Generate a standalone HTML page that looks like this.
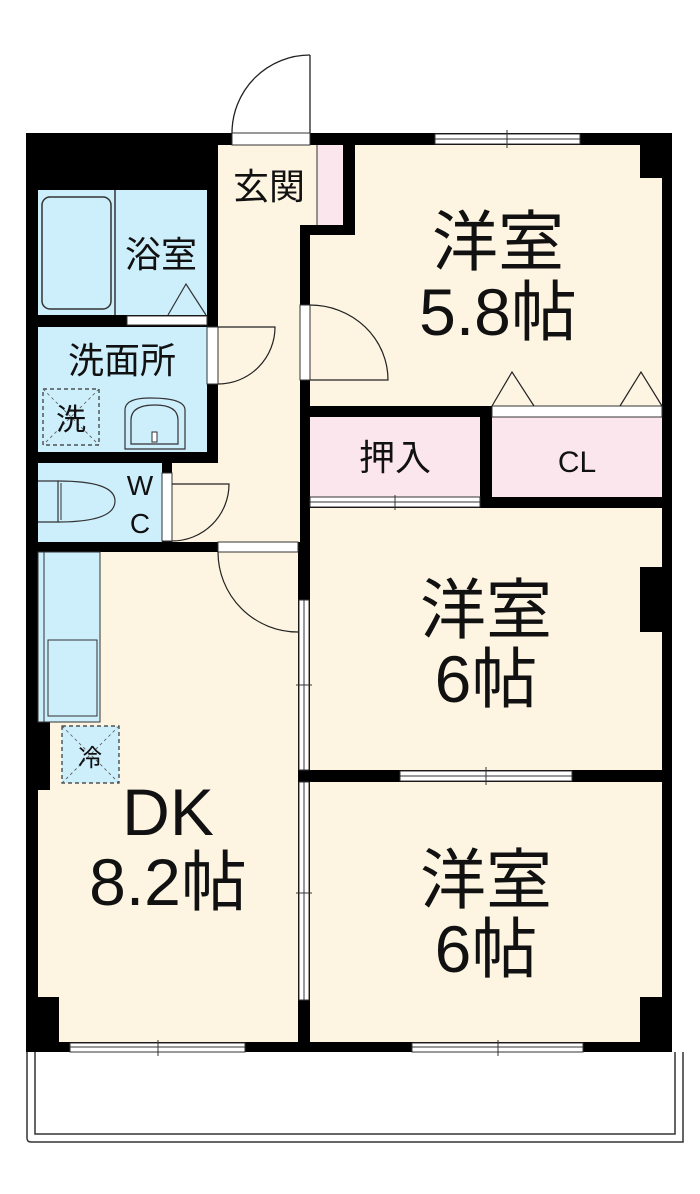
<!DOCTYPE html>
<html><head><meta charset="utf-8"><style>
html,body{margin:0;padding:0;background:#fff;}
svg{display:block;}
text{font-family:"Liberation Sans","Noto Sans CJK JP",sans-serif;fill:#111;text-anchor:middle;}
.big{font-size:66px;}
.mid{font-size:36px;}
.sm{font-size:28px;}
</style></head><body>
<svg width="700" height="1194" viewBox="0 0 700 1194" xmlns="http://www.w3.org/2000/svg">
<!-- balcony -->
<path d="M27 1052 V1138 Q27 1142 31 1142 H683 V1052" fill="none" stroke="#333" stroke-width="1.5"/>
<path d="M35 1052 V1134 H675 V1052" fill="none" stroke="#333" stroke-width="1.5"/>
<!-- outer black -->
<rect x="26" y="133" width="646" height="919" fill="#000"/>
<!-- room fills -->
<rect x="310" y="145" width="352" height="261" fill="#fdf5e2"/>
<rect x="218" y="145" width="99" height="83" fill="#fdf5e2"/>
<rect x="218" y="228" width="82" height="314" fill="#fdf5e2"/>
<rect x="317" y="145" width="26" height="80" fill="#fce6ee"/>
<line x1="317" y1="145" x2="317" y2="225" stroke="#333" stroke-width="1"/>
<rect x="343" y="145" width="12" height="90" fill="#000"/>
<rect x="300" y="225" width="55" height="10" fill="#000"/>
<rect x="300" y="228" width="10" height="80" fill="#000"/>
<rect x="640" y="145" width="22" height="33" fill="#000"/>
<rect x="172" y="463" width="46" height="79" fill="#fdf5e2"/>
<rect x="38" y="190" width="169" height="125" fill="#cdeefb"/>
<rect x="38" y="327" width="169" height="125" fill="#cdeefb"/>
<rect x="38" y="463" width="124" height="79" fill="#cdeefb"/>
<rect x="310" y="417" width="170" height="80" fill="#fce6ee"/>
<rect x="492" y="417" width="170" height="80" fill="#fce6ee"/>
<rect x="310" y="508" width="352" height="262" fill="#fdf5e2"/>
<rect x="640" y="567" width="22" height="65" fill="#000"/>
<rect x="310" y="782" width="352" height="260" fill="#fdf5e2"/>
<rect x="640" y="997" width="22" height="45" fill="#000"/>
<rect x="38" y="552" width="260" height="490" fill="#fdf5e2"/>
<rect x="26" y="997" width="33" height="45" fill="#000"/>
<rect x="26" y="700" width="24" height="90" fill="#000"/>
<!-- kitchen -->
<rect x="38" y="552" width="62" height="170" fill="#cdeefb" stroke="#333" stroke-width="1"/>
<rect x="44" y="552" width="56" height="170" fill="none" stroke="#333" stroke-width="1"/>
<rect x="48" y="640" width="49" height="76" fill="none" stroke="#333" stroke-width="1"/>
<!-- fridge -->
<rect x="62" y="726" width="57" height="57" fill="#cdeefb" stroke="#333" stroke-width="1.2" stroke-dasharray="4,3"/>
<path d="M62 726 L119 783 M119 726 L62 783" stroke="#555" stroke-width="0.8" stroke-dasharray="3,3"/>
<text x="90" y="766" style="font-size:24px">冷</text>
<!-- bath -->
<line x1="115" y1="190" x2="115" y2="315" stroke="#333" stroke-width="1.5"/>
<rect x="42" y="197" width="69" height="112" rx="8" fill="none" stroke="#333" stroke-width="1.5"/>
<path d="M168 315 L186 284 L206 315" fill="none" stroke="#333" stroke-width="1.2"/>
<rect x="127" y="316" width="80" height="9" fill="#fff" stroke="#333" stroke-width="1"/>
<!-- washer -->
<rect x="43" y="389" width="56" height="56" fill="none" stroke="#333" stroke-width="1.2" stroke-dasharray="4,3"/>
<path d="M43 389 L99 445 M99 389 L43 445" stroke="#555" stroke-width="0.8" stroke-dasharray="3,3"/>
<text x="71" y="430" style="font-size:30px">洗</text>
<!-- sink -->
<path d="M125 449 V410 Q125 398 150 398 Q185 398 185 410 V449 Z" fill="#cdeefb" stroke="#333" stroke-width="1.2"/>
<path d="M131 444 V420 Q131 405 155 405 Q178 405 178 420 V444 Z" fill="none" stroke="#333" stroke-width="1.2"/>
<rect x="152" y="432" width="5" height="10" fill="#fff" stroke="#333" stroke-width="1"/>
<!-- toilet -->
<path d="M38 481 H58 V522 H38" fill="none" stroke="#333" stroke-width="1.2"/>
<path d="M58 481 Q115 481 115 501 Q115 522 58 522" fill="none" stroke="#333" stroke-width="1.2"/>
<line x1="61" y1="483" x2="61" y2="520" stroke="#333" stroke-width="1"/>
<text x="140" y="495" class="sm">W</text>
<text x="140" y="533" class="sm">C</text>
<!-- entrance door -->
<rect x="232" y="133" width="78" height="12" fill="#fff" stroke="#333" stroke-width="1"/>
<line x1="310" y1="55" x2="310" y2="133" stroke="#222" stroke-width="1.3"/>
<path d="M232 133 A78 78 0 0 1 310 55" fill="none" stroke="#222" stroke-width="1.3"/>
<!-- wash door -->
<rect x="207" y="327" width="11" height="57" fill="#fff" stroke="#333" stroke-width="1"/>
<path d="M218 384 A57 57 0 0 0 275 327 H218" fill="none" stroke="#222" stroke-width="1.2"/>
<!-- WC door -->
<rect x="162" y="473" width="10" height="68" fill="#fff" stroke="#333" stroke-width="1"/>
<path d="M172 541 A57 57 0 0 0 229 484 H172" fill="none" stroke="#222" stroke-width="1.2"/>
<!-- DK door -->
<rect x="218" y="542" width="80" height="10" fill="#fff" stroke="#333" stroke-width="1"/>
<path d="M218 552 A80 80 0 0 0 298 632" fill="none" stroke="#222" stroke-width="1.2"/>
<!-- 5.8 door -->
<rect x="300" y="305" width="10" height="75" fill="#fff" stroke="#333" stroke-width="1"/>
<path d="M310 305 A78 75 0 0 1 388 380 H310" fill="none" stroke="#222" stroke-width="1.2"/>
<!-- closet sliding marks -->
<rect x="492" y="406" width="170" height="11" fill="#fff" stroke="#333" stroke-width="1"/>
<path d="M492 406 L512 372 L534 406 M620 406 L641 372 L662 406" fill="none" stroke="#222" stroke-width="1.2"/>
<rect x="310" y="497" width="170" height="10" fill="#fff" stroke="#333" stroke-width="1"/>
<line x1="310" y1="502" x2="480" y2="502" stroke="#333" stroke-width="1"/>
<line x1="395" y1="495" x2="395" y2="510" stroke="#333" stroke-width="1"/>
<!-- sliding doors DK -->
<rect x="299" y="600" width="10" height="170" fill="#fff" stroke="#333" stroke-width="1"/>
<line x1="304" y1="600" x2="304" y2="770" stroke="#333" stroke-width="1"/>
<line x1="296" y1="685" x2="312" y2="685" stroke="#333" stroke-width="1"/>
<rect x="299" y="782" width="10" height="218" fill="#fff" stroke="#333" stroke-width="1"/>
<line x1="304" y1="782" x2="304" y2="1000" stroke="#333" stroke-width="1"/>
<line x1="296" y1="893" x2="312" y2="893" stroke="#333" stroke-width="1"/>
<!-- windows -->
<g fill="#fff" stroke="#333" stroke-width="1">
<rect x="435" y="134" width="145" height="10"/>
<rect x="400" y="771" width="172" height="10"/>
<rect x="70" y="1043" width="175" height="9"/>
<rect x="412" y="1043" width="171" height="9"/>
</g>
<g stroke="#333" stroke-width="1">
<line x1="435" y1="139" x2="580" y2="139"/><line x1="507" y1="130" x2="507" y2="148"/>
<line x1="400" y1="776" x2="572" y2="776"/><line x1="486" y1="767" x2="486" y2="785"/>
<line x1="70" y1="1047" x2="245" y2="1047"/><line x1="158" y1="1040" x2="158" y2="1056"/>
<line x1="412" y1="1047" x2="583" y2="1047"/><line x1="498" y1="1040" x2="498" y2="1056"/>
</g>
<!-- labels -->
<text x="269" y="199" class="mid">玄関</text>
<text x="161" y="267" class="mid">浴室</text>
<text x="122" y="373" class="mid">洗面所</text>
<text x="395" y="470" class="mid">押入</text>
<text x="577" y="472" style="font-size:30px">CL</text>
<text x="498" y="265" class="big">洋室</text>
<text x="498" y="335" class="big">5.8帖</text>
<text x="486" y="633" class="big">洋室</text>
<text x="486" y="702" class="big">6帖</text>
<text x="486" y="903" class="big">洋室</text>
<text x="486" y="972" class="big">6帖</text>
<text x="168" y="835" class="big">DK</text>
<text x="168" y="905" class="big">8.2帖</text>
</svg>
</body></html>
